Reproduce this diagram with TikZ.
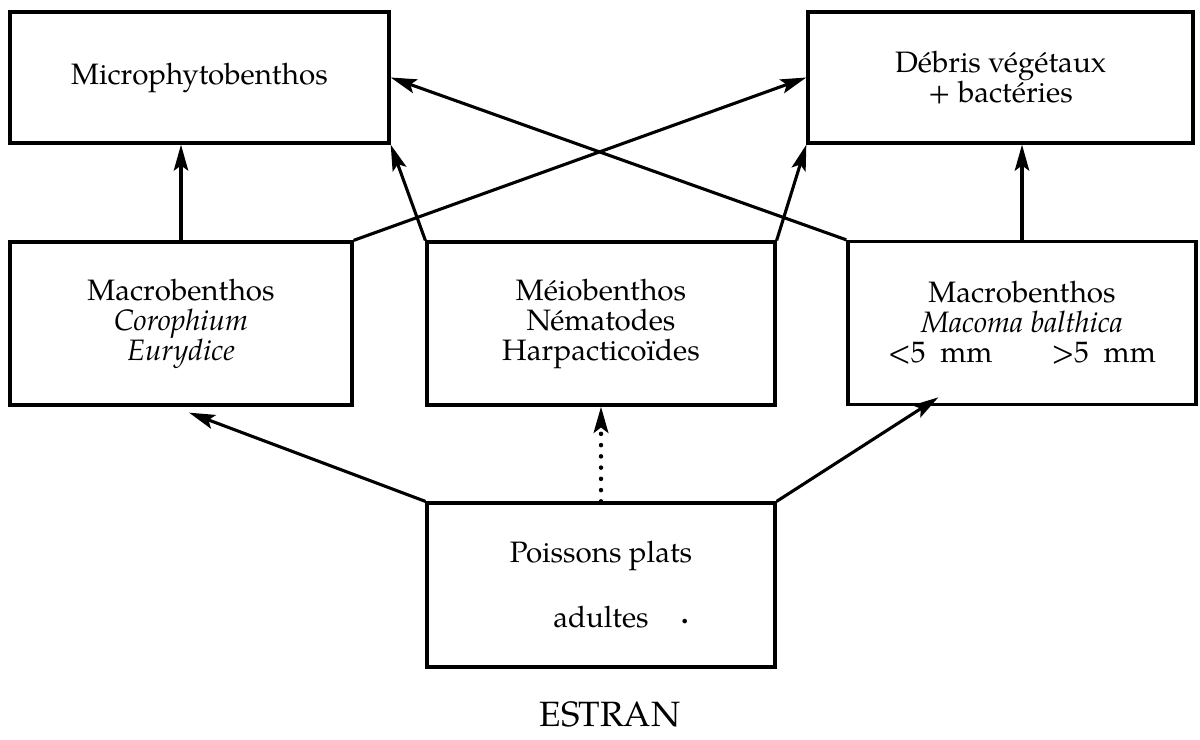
\documentclass[tikz,border=0pt]{standalone}
\usepackage{fontspec}
\setmainfont{TeX Gyre Pagella}
\usetikzlibrary{arrows.meta}

\begin{document}
\begin{tikzpicture}[x=0.025cm,y=-0.025cm,font=\fontsize{21}{21.3}\selectfont]
        \tikzset{
            web/.style={
                draw,
                line width=2.3pt,
                minimum width=8.7cm,
                minimum height=4.075cm,
                inner sep=0pt,
                align=center
            },
            webtop/.style={web,minimum height=3.275cm},
            webfeeds/.style={
                -{Stealth[length=6.5mm,width=3.6mm,inset=1.3mm]},
                line width=2.2pt
            },
            webweak/.style={
                webfeeds,
                line cap=round,
                dash pattern=on 0pt off 8pt,
                line width=3.2pt
            }
        }
        \useasboundingbox (0,0) rectangle (1200,740);

        \node[webtop,minimum width=9.475cm] (micro) at (199.5,77.5) {Microphytobenthos};
        \node[webtop,minimum width=9.625cm] (debris) at (1000.5,77.5)
            {Débris végétaux\\+ bactéries};

        \node[web,minimum width=8.55cm] (macroL) at (181,323.5)
            {Macrobenthos\\\textit{Corophium}\\\textit{Eurydice}};
        \node[web] (meio) at (601,323.5)
            {Méiobenthos\\Nématodes\\Harpacticoïdes};
        \node[web] (macroR) at (1022,323)
            {Macrobenthos\\\textit{Macoma balthica}\\{<}5\ \ mm\qquad{>}5\ \ mm};

        \node[web,minimum height=4.1cm] (poissons) at (601,585)
            {Poissons plats\\[25pt]adultes\rlap{\hspace{1.1em}\raisebox{0.3ex}{\textbf{.}}}};
        \node[font=\fontsize{25}{27}\selectfont] (estran) at (610,714) {ESTRAN};

        \draw[webfeeds] (macroL.north) -- (macroL.north |- micro.south);
        \draw[webfeeds] (macroL.north east) -- (debris.west);
        \draw[webfeeds] (meio.north west) -- (micro.south east);
        \draw[webfeeds] (meio.north east) -- (debris.south west);
        \draw[webfeeds] (macroR.north west) -- (micro.east);
        \draw[webfeeds] (macroR.north) -- (macroR.north |- debris.south);

        \draw[webfeeds] (poissons.north west) -- ([xshift=0.2cm,yshift=-0.15cm]macroL.south);
        \draw[webweak] (poissons.north) -- (meio.south);
        \draw[webfeeds] (poissons.north east) -- ([xshift=2.3cm,yshift=0.22cm]macroR.south west);
    \end{tikzpicture}
\end{document}
